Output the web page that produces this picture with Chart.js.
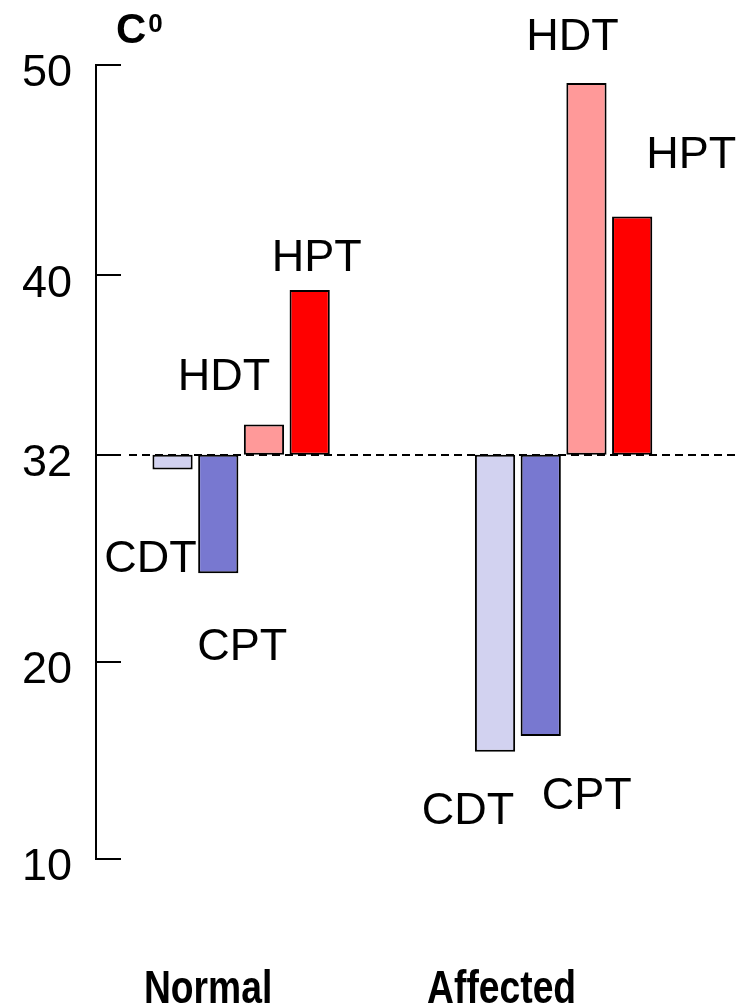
<!DOCTYPE html>
<html>
<head>
<meta charset="utf-8">
<script src="https://cdn.jsdelivr.net/npm/chart.js@4"></script>
<style>
  html, body { margin: 0; padding: 0; background: #fff; }
</style>
</head>
<body>
<canvas id="chart" width="753" height="1006"></canvas>
<script>
// data
const groups = ["Normal", "Affected"];
const series = ["CDT", "CPT", "HDT", "HPT"];
const baseline = 32;
const cdtValues = [31.15, 15.45];
const cptValues = [25.15, 16.25];
const hdtValues = [33.35, 49.15];
const hptValues = [39.35, 42.8];
const yTicks = [10, 20, 32, 40, 50];
const yUnit = "C";

// the axis in the figure is not evenly spaced: where each tick sits (0 = bottom, 1 = top)
const yStops = [0, 0.248, 0.509, 0.735, 1];

const FONT = "'Liberation Sans', Arial, sans-serif";
const colors = ["#d2d2f0", "#7878d0", "#ff9999", "#ff0000"];
// label offsets from the bar centre / bar end, per series, per group
const labelDx = [[-22, -27], [24, 46], [-40, -14], [7, 59]];
const labelDy = [[102, 72], [87, 73], [-35, -33], [-19, -48]];
const groupLabelDx = [-33, -62];

const toDecimal = (v) => {
  for (let i = 1; i < yTicks.length; i++) {
    if (v <= yTicks[i] || i === yTicks.length - 1) {
      const t = (v - yTicks[i - 1]) / (yTicks[i] - yTicks[i - 1]);
      return yStops[i - 1] + t * (yStops[i] - yStops[i - 1]);
    }
  }
};
const fromDecimal = (d) => {
  for (let i = 1; i < yStops.length; i++) {
    if (d <= yStops[i] || i === yStops.length - 1) {
      const t = (d - yStops[i - 1]) / (yStops[i] - yStops[i - 1]);
      return yTicks[i - 1] + t * (yTicks[i] - yTicks[i - 1]);
    }
  }
};

class PiecewiseScale extends Chart.LinearScale {
  static id = "piecewise";
  static defaults = { ticks: { callback: (v) => String(v) } };
  getPixelForValue(value) {
    if (value === null || value === undefined || isNaN(value)) return NaN;
    return this.getPixelForDecimal(toDecimal(value));
  }
  getValueForPixel(pixel) {
    return fromDecimal(this.getDecimalForPixel(pixel));
  }
}
Chart.register(PiecewiseScale);

const allValues = [cdtValues, cptValues, hdtValues, hptValues];

const axisTicks = {
  id: "axisTicks",
  afterDraw(chart) {
    const { ctx } = chart;
    const y = chart.scales.y;
    const left = chart.chartArea.left;
    ctx.save();
    ctx.strokeStyle = "#000";
    ctx.lineWidth = 2;
    yTicks.forEach((v) => {
      const py = Math.round(y.getPixelForValue(v));
      ctx.beginPath();
      ctx.moveTo(left - 1, py);
      ctx.lineTo(left + 25, py);
      ctx.stroke();
    });
    ctx.restore();
  },
};

const baseLine = {
  id: "baseLine",
  beforeDatasetsDraw(chart) {
    const { ctx, chartArea } = chart;
    const py = Math.round(chart.scales.y.getPixelForValue(baseline));
    ctx.save();
    ctx.strokeStyle = "#000";
    ctx.lineWidth = 2;
    ctx.setLineDash([8, 5]);
    ctx.beginPath();
    ctx.moveTo(chartArea.left + 33, py);
    ctx.lineTo(chartArea.right, py);
    ctx.stroke();
    ctx.restore();
  },
};

const textLabels = {
  id: "textLabels",
  afterDatasetsDraw(chart) {
    const { ctx, chartArea } = chart;
    const yScale = chart.scales.y;
    ctx.save();
    ctx.fillStyle = "#000";
    ctx.textAlign = "center";
    ctx.textBaseline = "alphabetic";
    ctx.font = "45px " + FONT;
    series.forEach((name, si) => {
      chart.getDatasetMeta(si).data.forEach((bar, gi) => {
        const end = yScale.getPixelForValue(allValues[si][gi]);
        ctx.fillText(name, bar.x + labelDx[si][gi], end + labelDy[si][gi]);
      });
    });

    // group names under the chart, a bit condensed as in the figure
    ctx.font = "bold 46px " + FONT;
    groups.forEach((g, gi) => {
      const cx = chart.scales.x.getPixelForValue(gi) + groupLabelDx[gi];
      ctx.save();
      ctx.translate(cx, chart.height - 3);
      ctx.scale(0.81, 1);
      ctx.fillText(g, 0, 0);
      ctx.restore();
    });

    // unit at the top of the axis
    ctx.textAlign = "left";
    ctx.font = "bold 42px " + FONT;
    ctx.fillText(yUnit, chartArea.left + 20, 43);
    const w = ctx.measureText(yUnit).width;
    ctx.font = "bold 26px " + FONT;
    ctx.fillText("0", chartArea.left + 22 + w, 32);
    ctx.restore();
  },
};

new Chart(document.getElementById("chart"), {
  type: "bar",
  data: {
    datasets: series.map((name, si) => ({
      label: name,
      data: groups.map((g, gi) => ({ x: gi, y: [baseline, allValues[si][gi]] })),
      backgroundColor: colors[si],
      borderColor: "#000",
      borderWidth: 2,
      borderSkipped: false,
      categoryPercentage: 0.567,
      barPercentage: 0.88,
    })),
  },
  options: {
    responsive: false,
    animation: false,
    layout: { padding: { top: 65, bottom: 139, left: 12, right: 13 } },
    plugins: { legend: { display: false }, tooltip: { enabled: false } },
    scales: {
      x: {
        type: "linear",
        offset: false,
        bounds: "data",
        min: -0.45,
        max: 1.547,
        afterDataLimits: (scale) => {
          scale.min = -0.45;
          scale.max = 1.547;
        },
        afterBuildTicks: (scale) => {
          scale.ticks = groups.map((g, i) => ({ value: i }));
        },
        ticks: { display: false },
        grid: { display: false, offset: false },
        border: { display: false },
      },
      y: {
        type: "piecewise",
        min: 10,
        max: 50,
        afterFit: (scale) => {
          scale.width = 84;
        },
        afterBuildTicks: (scale) => {
          scale.ticks = yTicks.map((v) => ({ value: v }));
        },
        ticks: {
          color: "#000",
          padding: 24,
          labelOffset: 9,
          font: { family: FONT, size: 45 },
          callback: (v) => String(v),
        },
        grid: { display: false, drawTicks: false },
        border: { display: true, color: "#000", width: 2 },
      },
    },
  },
  plugins: [baseLine, axisTicks, textLabels],
});
</script>
</body>
</html>
